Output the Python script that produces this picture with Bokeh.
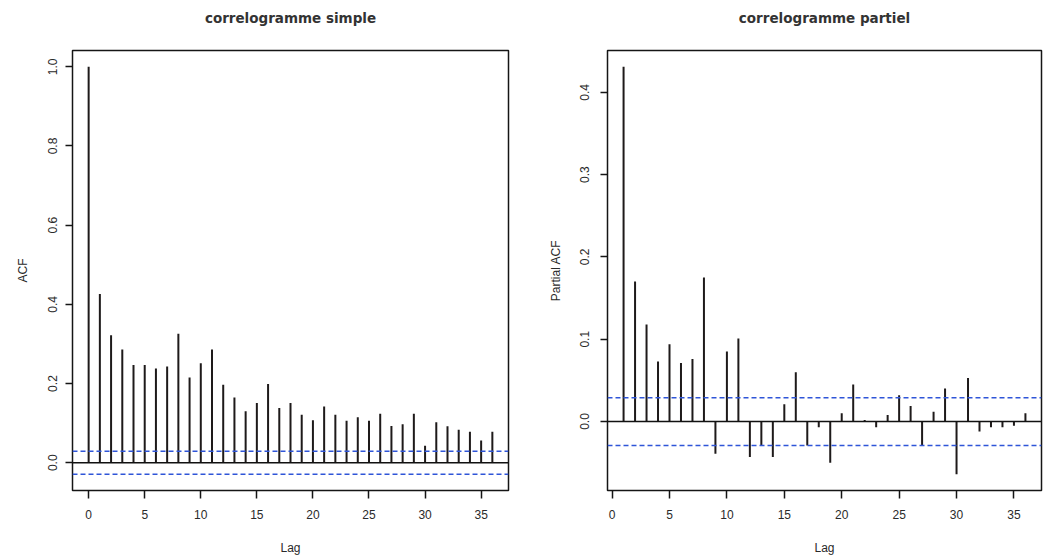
from bokeh.plotting import figure
from bokeh.layouts import row
from bokeh.models import Range1d, FixedTicker, Span, PrintfTickFormatter, ColumnDataSource, Title
from bokeh.embed import file_html
from bokeh.resources import INLINE

# ---- data ----
acf_lags = [0, 1, 2, 3, 4, 5, 6, 7, 8, 9, 10, 11, 12, 13, 14, 15, 16, 17, 18,
            19, 20, 21, 22, 23, 24, 25, 26, 27, 28, 29, 30, 31, 32, 33, 34, 35, 36]
acf_values = [1.0, 0.426, 0.322, 0.286, 0.247, 0.247, 0.238, 0.243, 0.326, 0.215,
              0.251, 0.286, 0.197, 0.165, 0.130, 0.151, 0.199, 0.138, 0.151, 0.121,
              0.107, 0.142, 0.121, 0.106, 0.115, 0.106, 0.124, 0.093, 0.097, 0.124,
              0.043, 0.102, 0.092, 0.083, 0.078, 0.056, 0.078]

pacf_lags = [1, 2, 3, 4, 5, 6, 7, 8, 9, 10, 11, 12, 13, 14, 15, 16, 17, 18,
             19, 20, 21, 22, 23, 24, 25, 26, 27, 28, 29, 30, 31, 32, 33, 34, 35, 36]
pacf_values = [0.431, 0.170, 0.118, 0.073, 0.094, 0.071, 0.076, 0.175, -0.039, 0.085,
               0.101, -0.043, -0.029, -0.043, 0.021, 0.060, -0.029, -0.007, -0.050, 0.010,
               0.045, 0.002, -0.007, 0.008, 0.032, 0.019, -0.029, 0.012, 0.040, -0.064,
               0.053, -0.012, -0.007, -0.007, -0.005, 0.010]

conf_limit = 0.029

x_ticks = [0, 5, 10, 15, 20, 25, 30, 35]
acf_yticks = [0.0, 0.2, 0.4, 0.6, 0.8, 1.0]
pacf_yticks = [0.0, 0.1, 0.2, 0.3, 0.4]

titles = ["correlogramme simple", "correlogramme partiel"]
ylabels = ["ACF", "Partial ACF"]
xlabel = "Lag"

BAR = "#1e1a1a"
BLUE = "#2f55d8"
TXT = "#2a2a2a"


def padded(lo, hi, frac=0.04):
    d = (hi - lo) * frac
    return lo - d, hi + d


def panel(title, lags, vals, yticks, ylabel, width, bl, br, tick_standoff, label_standoff):
    xlo, xhi = padded(min(lags), max(lags))
    ylo, yhi = padded(min(min(vals), -conf_limit), max(max(vals), conf_limit))
    p = figure(width=width, height=560, x_range=Range1d(xlo, xhi), y_range=Range1d(ylo, yhi),
               output_backend="svg", toolbar_location=None,
               min_border_left=bl, min_border_right=br, min_border_top=50, min_border_bottom=70)
    p.background_fill_color = "white"
    p.border_fill_color = "white"
    p.outline_line_color = "#151515"
    p.outline_line_width = 1.5
    p.grid.visible = False

    src = ColumnDataSource(dict(lag=lags, v=vals))
    p.segment(x0="lag", y0=0, x1="lag", y1="v", source=src, line_color=BAR, line_width=2)

    p.add_layout(Span(location=0, dimension="width", line_color="#111111", line_width=1.5))
    p.add_layout(Span(location=conf_limit, dimension="width", line_color=BLUE,
                      line_width=1.5, line_dash="5 3"))
    p.add_layout(Span(location=-conf_limit, dimension="width", line_color=BLUE,
                      line_width=1.5, line_dash="5 3"))

    # spacer between frame and title (keeps the title high above the frame)
    p.add_layout(Title(text=" ", text_font="DejaVu Sans", text_font_size="13.5px",
                       standoff=2), "above")
    p.title.text = title
    p.title.align = "center"
    p.title.text_font = "DejaVu Sans"
    p.title.text_font_style = "bold"
    p.title.text_font_size = "13.5px"
    p.title.text_color = "#333333"
    p.title.standoff = 9

    for ax in (p.xaxis[0], p.yaxis[0]):
        ax.axis_line_color = None
        ax.minor_tick_line_color = None
        ax.major_tick_line_color = "#151515"
        ax.major_tick_line_width = 1.5
        ax.major_tick_in = 0
        ax.major_label_text_font = "Liberation Sans"
        ax.major_label_text_font_size = "12px"
        ax.major_label_text_color = TXT
        ax.axis_label_text_font = "Liberation Sans"
        ax.axis_label_text_font_size = "12px"
        ax.axis_label_text_font_style = "normal"
        ax.axis_label_text_color = TXT

    p.xaxis.ticker = FixedTicker(ticks=x_ticks)
    p.xaxis.major_tick_out = 8
    p.xaxis.major_label_standoff = 11
    p.xaxis.axis_label = xlabel
    p.xaxis.axis_label_standoff = 19

    p.yaxis.ticker = FixedTicker(ticks=yticks)
    p.yaxis.formatter = PrintfTickFormatter(format="%.1f")
    p.yaxis.major_tick_out = 7
    p.yaxis.major_label_orientation = "vertical"
    p.yaxis.major_label_standoff = tick_standoff
    p.yaxis.axis_label = ylabel
    p.yaxis.axis_label_standoff = label_standoff
    return p


p1 = panel(titles[0], acf_lags, acf_values, acf_yticks, ylabels[0], 521, 72, 13, 8, 16)
p2 = panel(titles[1], pacf_lags, pacf_values, pacf_yticks, ylabels[1], 522, 86, 2, 11, 15)

layout = row(p1, p2)
open("out.html", "w").write(file_html(layout, INLINE))
